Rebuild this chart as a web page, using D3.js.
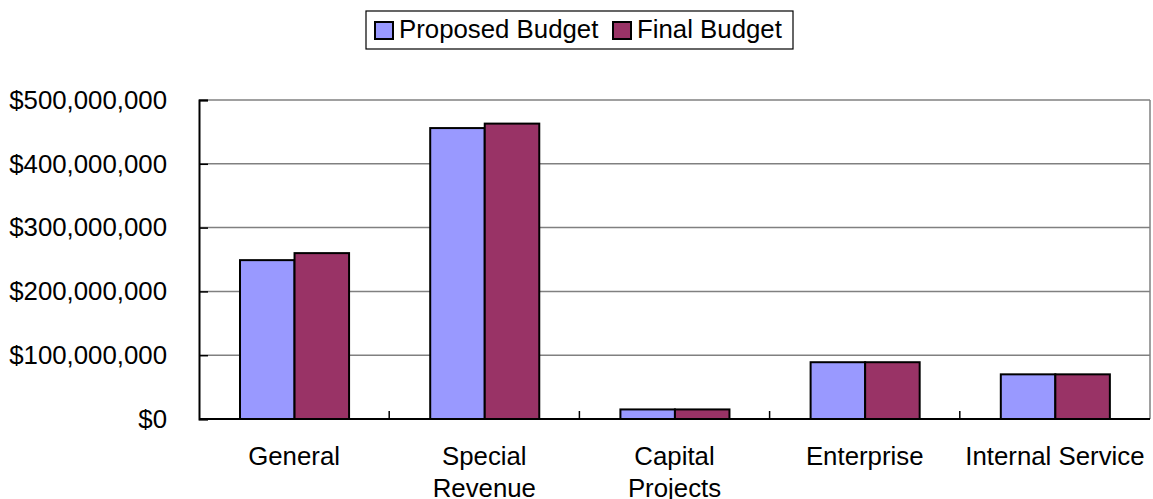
<!DOCTYPE html>
<html>
<head>
<meta charset="utf-8">
<script src="https://cdn.jsdelivr.net/npm/d3@7"></script>
<style>
  html, body { margin: 0; padding: 0; background: #fff; }
  svg { display: block; font-family: "Liberation Sans", Arial, sans-serif; }
</style>
</head>
<body>
<svg id="chart" width="1153" height="499"></svg>
<script>
const categories = ["General", "Special\nRevenue", "Capital\nProjects", "Enterprise", "Internal Service"];
const seriesNames = ["Proposed Budget", "Final Budget"];
const proposedBudget = [249000000, 456000000, 15000000, 89000000, 70000000];
const finalBudget = [260000000, 463000000, 15000000, 89000000, 70000000];
const yTicks = [0, 100000000, 200000000, 300000000, 400000000, 500000000];
const colors = ["#9999FF", "#993366"];

const FS = 25.8;
const svg = d3.select("#chart");
const plot = { left: 199, right: 1150, top: 100, bottom: 419 };

const y = d3.scaleLinear().domain([0, 500000000]).range([plot.bottom, plot.top]);
const x0 = d3.scaleBand().domain(categories).range([plot.left, plot.right]).padding(0);
const bw = x0.bandwidth();
const x1 = d3.scaleBand().domain(seriesNames).range([bw * 0.2156, bw * 0.789]).padding(0);

const fmt = v => "$" + d3.format(",")(v);

// gridlines
svg.append("g").selectAll("line").data(yTicks.filter(d => d > 0)).join("line")
  .attr("x1", plot.left).attr("x2", plot.right)
  .attr("y1", d => y(d)).attr("y2", d => y(d))
  .attr("stroke", "#808080").attr("stroke-width", 1.5);

// right border
svg.append("line").attr("x1", plot.right).attr("x2", plot.right)
  .attr("y1", plot.top).attr("y2", plot.bottom)
  .attr("stroke", "#808080").attr("stroke-width", 1.5);

// bars
const data = categories.map((c, i) => ({ cat: c, vals: [proposedBudget[i], finalBudget[i]] }));
const groups = svg.append("g").selectAll("g").data(data).join("g")
  .attr("transform", d => `translate(${x0(d.cat)},0)`);
groups.selectAll("rect").data(d => d.vals.map((v, j) => ({ v, s: seriesNames[j], j })))
  .join("rect")
  .attr("x", d => x1(d.s))
  .attr("width", x1.bandwidth())
  .attr("y", d => y(d.v))
  .attr("height", d => y(0) - y(d.v))
  .attr("fill", d => colors[d.j])
  .attr("stroke", "#000").attr("stroke-width", 2);

// y axis
const yAxis = d3.axisLeft(y).tickValues(yTicks).tickSize(-9).tickFormat(fmt).tickPadding(32);
const gy = svg.append("g").attr("transform", `translate(${plot.left},0)`).call(yAxis);
gy.select(".domain").attr("stroke", "#000").attr("stroke-width", 2);
gy.selectAll(".tick line").attr("stroke", "#000").attr("stroke-width", 1.5);
gy.selectAll(".tick text").attr("font-size", FS).attr("fill", "#000")
  .attr("font-family", "'Liberation Sans', Arial, sans-serif");

// x axis
const tickPos = categories.map(c => x0(c)).concat([plot.right]);
svg.append("line").attr("x1", plot.left).attr("x2", plot.right)
  .attr("y1", plot.bottom).attr("y2", plot.bottom)
  .attr("stroke", "#000").attr("stroke-width", 2);
svg.append("g").selectAll("line").data(tickPos.slice(1, -1)).join("line")
  .attr("x1", d => d).attr("x2", d => d)
  .attr("y1", plot.bottom).attr("y2", plot.bottom - 8)
  .attr("stroke", "#000").attr("stroke-width", 1.5);

const xl = svg.append("g").selectAll("text").data(categories).join("text")
  .attr("x", d => x0(d) + bw / 2)
  .attr("y", 465)
  .attr("text-anchor", "middle")
  .attr("font-size", FS)
  .attr("fill", "#000");
xl.each(function(d) {
  const t = d3.select(this);
  d.split("\n").forEach((line, i) => {
    t.append("tspan").attr("x", x0(d) + bw / 2).attr("dy", i === 0 ? 0 : 32).text(line);
  });
});

// legend
const legend = svg.append("g");
legend.append("rect").attr("x", 366).attr("y", 11).attr("width", 427).attr("height", 38)
  .attr("fill", "#fff").attr("stroke", "#000").attr("stroke-width", 1.2);
const legX = [375, 613];
const legItems = legend.selectAll("g").data(seriesNames).join("g")
  .attr("transform", (d, i) => `translate(${legX[i]},0)`);
legItems.append("rect").attr("x", 0).attr("y", 22).attr("width", 18).attr("height", 17)
  .attr("fill", (d, i) => colors[i]).attr("stroke", "#000").attr("stroke-width", 2);
legItems.append("text").attr("x", 24).attr("y", 38).attr("font-size", FS).attr("fill", "#000")
  .text(d => d);
</script>
</body>
</html>
